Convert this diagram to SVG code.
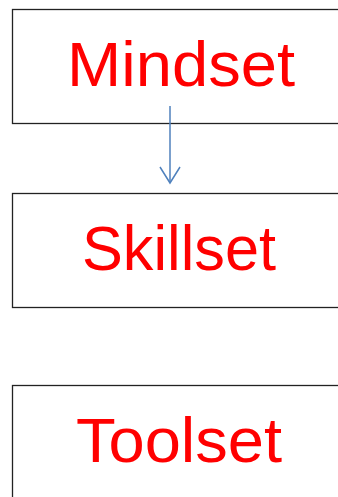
<svg xmlns="http://www.w3.org/2000/svg" width="338" height="497" viewBox="0 0 338 497">
<style>
.box{fill:#fff;stroke:#222;stroke-width:1.3}
.lbl{font-family:"Liberation Sans",Arial,sans-serif;font-size:63px;fill:#ff0000;text-anchor:middle}
.conn{stroke:#4f81bd;stroke-width:1.5;fill:none}
</style>
<rect width="338" height="497" fill="#fff"/>
<g id="mindset">
<rect class="box" x="12.5" y="9.5" width="340" height="114"/>
<text class="lbl" x="181" y="86" textLength="228" lengthAdjust="spacingAndGlyphs">Mindset</text>
</g>
<g id="skillset">
<rect class="box" x="12.5" y="193.5" width="340" height="114"/>
<text class="lbl" x="179" y="270" textLength="194" lengthAdjust="spacingAndGlyphs">Skillset</text>
</g>
<g id="toolset">
<rect class="box" x="12.5" y="385.5" width="340" height="130"/>
<text class="lbl" x="179" y="462" textLength="206" lengthAdjust="spacingAndGlyphs">Toolset</text>
</g>
<g id="connectors">
<line class="conn" x1="170" y1="106" x2="170" y2="183"/>
<polyline class="conn" points="160,167 170,183 180,167"/>
</g>
</svg>
